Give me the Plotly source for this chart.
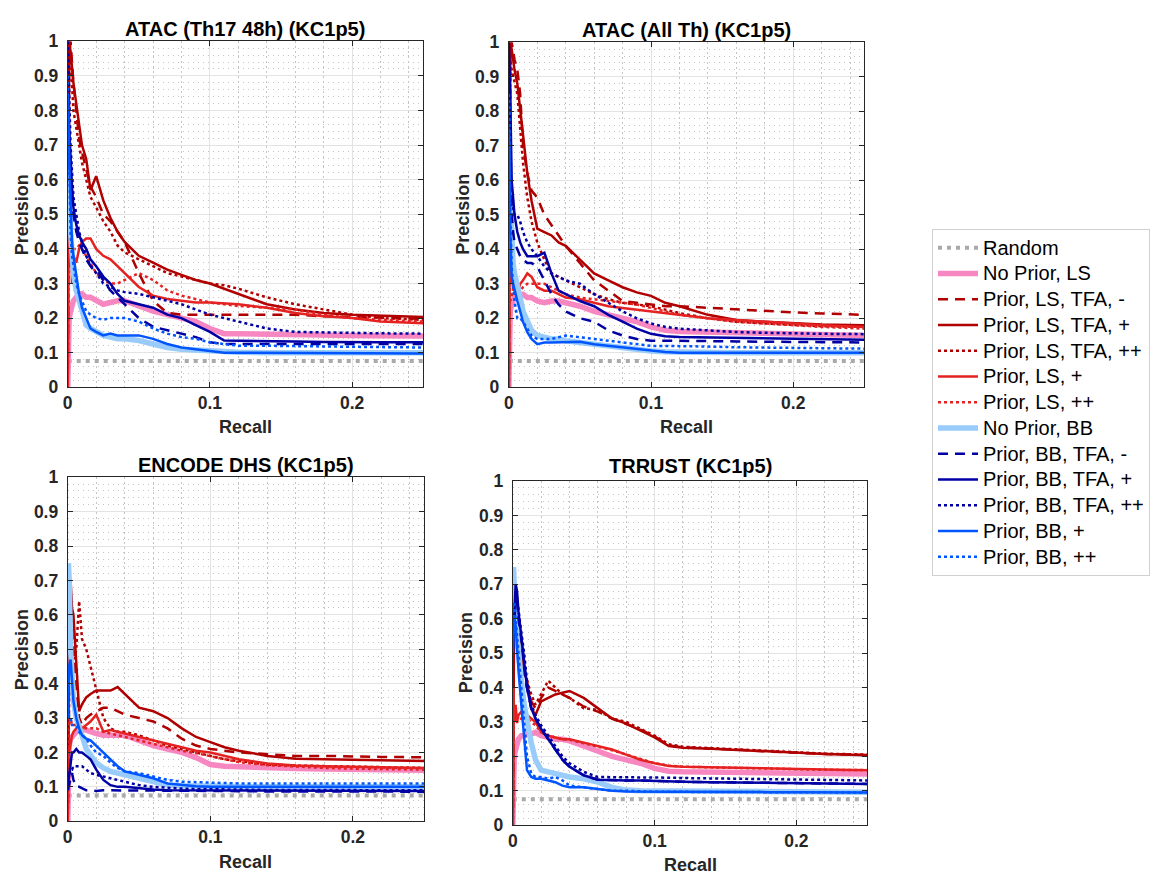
import plotly.graph_objects as go

# ---------------- data ----------------
recall = [0, 0.0005, 0.001, 0.002, 0.003, 0.004, 0.006, 0.008, 0.01, 0.013, 0.016,
          0.02, 0.025, 0.03, 0.035, 0.04, 0.05, 0.06, 0.07, 0.08, 0.09,
          0.1, 0.11, 0.12, 0.14, 0.16, 0.18, 0.2, 0.22, 0.25]

panel_titles = ["ATAC (Th17 48h) (KC1p5)", "ATAC (All Th) (KC1p5)",
                "ENCODE DHS (KC1p5)", "TRRUST (KC1p5)"]
random_precision = [0.076, 0.076, 0.075, 0.075]

series_names = ["No Prior, LS", "Prior, LS, TFA, -", "Prior, LS, TFA, +", "Prior, LS, TFA, ++",
                "Prior, LS, +", "Prior, LS, ++", "No Prior, BB", "Prior, BB, TFA, -",
                "Prior, BB, TFA, +", "Prior, BB, TFA, ++", "Prior, BB, +", "Prior, BB, ++"]

# Panel 1: ATAC (Th17 48h)
p1_ls_none = [0, 0.18, 0.2, 0.22, 0.24, 0.25, 0.26, 0.27, 0.27, 0.26, 0.26, 0.25, 0.24, 0.245, 0.25, 0.25, 0.235, 0.22, 0.21, 0.2, 0.19, 0.17, 0.155, 0.155, 0.153, 0.152, 0.151, 0.15, 0.149, 0.148]
p1_ls_tfa_m = [0, 0.7, 0.95, 1.0, 0.93, 0.88, 0.8, 0.72, 0.68, 0.63, 0.58, 0.55, 0.5, 0.48, 0.45, 0.42, 0.33, 0.25, 0.215, 0.21, 0.21, 0.21, 0.21, 0.21, 0.21, 0.21, 0.205, 0.203, 0.2, 0.198]
p1_ls_tfa_p = [0, 0.8, 1.0, 0.97, 0.92, 0.88, 0.82, 0.76, 0.7, 0.66, 0.57, 0.61, 0.54, 0.49, 0.45, 0.42, 0.38, 0.36, 0.34, 0.325, 0.31, 0.3, 0.285, 0.27, 0.24, 0.225, 0.215, 0.21, 0.207, 0.203]
p1_ls_tfa_pp = [0, 0.9, 1.0, 0.95, 0.88, 0.8, 0.75, 0.7, 0.65, 0.6, 0.55, 0.52, 0.48, 0.45, 0.41, 0.39, 0.37, 0.35, 0.33, 0.32, 0.31, 0.3, 0.295, 0.285, 0.26, 0.24, 0.225, 0.21, 0.2, 0.195]
p1_ls_p = [0, 0.67, 0.35, 0.5, 0.3, 0.38, 0.36, 0.4, 0.42, 0.43, 0.43, 0.4, 0.38, 0.37, 0.35, 0.33, 0.29, 0.265, 0.255, 0.25, 0.245, 0.245, 0.242, 0.24, 0.23, 0.215, 0.205, 0.2, 0.19, 0.185]
p1_ls_pp = [0, 0.4, 0.35, 0.38, 0.4, 0.4, 0.4, 0.41, 0.4, 0.38, 0.36, 0.33, 0.31, 0.3, 0.3, 0.31, 0.33, 0.31, 0.28, 0.265, 0.255, 0.245, 0.24, 0.235, 0.23, 0.225, 0.21, 0.2, 0.195, 0.19]
p1_bb_none = [0.75, 0.7, 0.6, 0.45, 0.38, 0.33, 0.28, 0.25, 0.22, 0.18, 0.17, 0.16, 0.15, 0.145, 0.14, 0.14, 0.135, 0.125, 0.115, 0.11, 0.107, 0.104, 0.102, 0.101, 0.1, 0.1, 0.1, 0.1, 0.1, 0.1]
p1_bb_tfa_m = [0.75, 0.85, 0.7, 0.6, 0.55, 0.5, 0.45, 0.42, 0.4, 0.37, 0.35, 0.34, 0.31, 0.28, 0.26, 0.24, 0.2, 0.175, 0.165, 0.155, 0.145, 0.13, 0.125, 0.125, 0.125, 0.125, 0.125, 0.125, 0.125, 0.125]
p1_bb_tfa_p = [0.7, 0.85, 0.75, 0.65, 0.58, 0.52, 0.47, 0.44, 0.42, 0.4, 0.37, 0.35, 0.32, 0.3, 0.27, 0.25, 0.24, 0.23, 0.21, 0.2, 0.18, 0.16, 0.135, 0.134, 0.133, 0.132, 0.131, 0.13, 0.13, 0.13]
p1_bb_tfa_pp = [1.0, 0.95, 0.85, 0.7, 0.6, 0.55, 0.5, 0.45, 0.42, 0.38, 0.35, 0.33, 0.3, 0.29, 0.28, 0.275, 0.27, 0.26, 0.25, 0.24, 0.225, 0.21, 0.2, 0.19, 0.17, 0.16, 0.158, 0.157, 0.156, 0.155]
p1_bb_p = [0.85, 0.8, 0.65, 0.5, 0.42, 0.38, 0.32, 0.27, 0.23, 0.2, 0.17, 0.16, 0.15, 0.155, 0.15, 0.15, 0.15, 0.14, 0.125, 0.115, 0.11, 0.105, 0.1, 0.1, 0.1, 0.1, 0.1, 0.099, 0.098, 0.098]
p1_bb_pp = [0.9, 0.8, 0.6, 0.45, 0.38, 0.35, 0.3, 0.27, 0.25, 0.22, 0.21, 0.2, 0.195, 0.2, 0.2, 0.2, 0.19, 0.17, 0.155, 0.145, 0.14, 0.13, 0.125, 0.12, 0.12, 0.12, 0.118, 0.117, 0.116, 0.115]

# Panel 2: ATAC (All Th)
p2_ls_none = [0, 0.2, 0.22, 0.24, 0.25, 0.26, 0.26, 0.27, 0.27, 0.26, 0.26, 0.25, 0.245, 0.25, 0.25, 0.245, 0.235, 0.22, 0.21, 0.2, 0.19, 0.175, 0.165, 0.162, 0.16, 0.158, 0.156, 0.154, 0.152, 0.15]
p2_ls_tfa_m = [0, 0.8, 0.95, 1.0, 0.97, 0.95, 0.92, 0.85, 0.7, 0.62, 0.57, 0.55, 0.5, 0.47, 0.44, 0.41, 0.36, 0.31, 0.28, 0.25, 0.245, 0.24, 0.235, 0.235, 0.23, 0.225, 0.22, 0.217, 0.214, 0.21]
p2_ls_tfa_p = [0, 0.9, 1.0, 0.98, 0.95, 0.92, 0.88, 0.8, 0.72, 0.62, 0.54, 0.46, 0.45, 0.44, 0.42, 0.41, 0.37, 0.33, 0.31, 0.29, 0.275, 0.265, 0.245, 0.235, 0.21, 0.195, 0.19, 0.185, 0.182, 0.18]
p2_ls_tfa_pp = [0, 0.85, 0.95, 0.92, 0.9, 0.88, 0.85, 0.75, 0.65, 0.55, 0.48, 0.42, 0.37, 0.33, 0.32, 0.31, 0.29, 0.27, 0.255, 0.245, 0.24, 0.235, 0.225, 0.215, 0.2, 0.19, 0.185, 0.18, 0.177, 0.175]
p2_ls_p = [0, 0.5, 0.3, 0.35, 0.28, 0.3, 0.27, 0.3, 0.31, 0.33, 0.32, 0.29, 0.28, 0.28, 0.27, 0.26, 0.255, 0.245, 0.235, 0.23, 0.225, 0.22, 0.215, 0.21, 0.2, 0.195, 0.19, 0.185, 0.18, 0.175]
p2_ls_pp = [0, 0.3, 0.25, 0.27, 0.28, 0.28, 0.27, 0.28, 0.29, 0.3, 0.3, 0.3, 0.3, 0.29, 0.28, 0.27, 0.26, 0.255, 0.25, 0.245, 0.24, 0.23, 0.22, 0.21, 0.2, 0.19, 0.185, 0.18, 0.175, 0.17]
p2_bb_none = [0.6, 0.65, 0.55, 0.42, 0.36, 0.33, 0.3, 0.26, 0.22, 0.19, 0.165, 0.15, 0.145, 0.14, 0.14, 0.135, 0.13, 0.125, 0.118, 0.112, 0.108, 0.105, 0.103, 0.102, 0.101, 0.1, 0.1, 0.1, 0.1, 0.1]
p2_bb_tfa_m = [0.8, 0.7, 0.6, 0.5, 0.45, 0.42, 0.4, 0.38, 0.37, 0.36, 0.36, 0.35, 0.31, 0.27, 0.24, 0.22, 0.2, 0.19, 0.165, 0.15, 0.14, 0.135, 0.135, 0.135, 0.134, 0.133, 0.132, 0.131, 0.13, 0.13]
p2_bb_tfa_p = [1.0, 0.95, 0.85, 0.6, 0.55, 0.5, 0.45, 0.42, 0.4, 0.38, 0.38, 0.38, 0.39, 0.33, 0.28, 0.27, 0.25, 0.235, 0.21, 0.19, 0.17, 0.155, 0.148, 0.146, 0.145, 0.144, 0.142, 0.14, 0.14, 0.138]
p2_bb_tfa_pp = [0.8, 0.75, 0.6, 0.55, 0.52, 0.5, 0.5, 0.48, 0.45, 0.42, 0.4, 0.38, 0.35, 0.33, 0.32, 0.31, 0.3, 0.27, 0.245, 0.22, 0.2, 0.185, 0.175, 0.17, 0.165, 0.16, 0.158, 0.156, 0.155, 0.154]
p2_bb_p = [0.75, 0.7, 0.45, 0.32, 0.3, 0.28, 0.25, 0.22, 0.19, 0.16, 0.14, 0.125, 0.13, 0.13, 0.13, 0.13, 0.132, 0.125, 0.12, 0.115, 0.11, 0.105, 0.102, 0.1, 0.1, 0.1, 0.1, 0.1, 0.1, 0.1]
p2_bb_pp = [0.85, 0.8, 0.5, 0.35, 0.3, 0.25, 0.2, 0.2, 0.19, 0.17, 0.15, 0.14, 0.14, 0.14, 0.145, 0.15, 0.145, 0.14, 0.135, 0.13, 0.125, 0.12, 0.12, 0.12, 0.118, 0.116, 0.115, 0.114, 0.113, 0.112]

# Panel 3: ENCODE DHS
p3_ls_none = [0, 0.2, 0.22, 0.24, 0.25, 0.25, 0.26, 0.265, 0.27, 0.265, 0.26, 0.255, 0.25, 0.25, 0.25, 0.25, 0.235, 0.22, 0.21, 0.2, 0.185, 0.165, 0.16, 0.158, 0.155, 0.153, 0.152, 0.151, 0.15, 0.148]
p3_ls_tfa_m = [0, 0.45, 0.5, 0.6, 0.55, 0.5, 0.4, 0.3, 0.28, 0.3, 0.31, 0.32, 0.33, 0.33, 0.32, 0.31, 0.3, 0.29, 0.27, 0.24, 0.22, 0.21, 0.205, 0.2, 0.195, 0.19, 0.19, 0.188, 0.187, 0.186]
p3_ls_tfa_p = [0, 0.5, 0.55, 0.7, 0.62, 0.6, 0.45, 0.32, 0.34, 0.36, 0.37, 0.38, 0.38, 0.38, 0.39, 0.37, 0.33, 0.32, 0.3, 0.27, 0.245, 0.23, 0.215, 0.205, 0.19, 0.182, 0.18, 0.178, 0.177, 0.175]
p3_ls_tfa_pp = [0, 0.3, 0.35, 0.4, 0.42, 0.45, 0.5, 0.64, 0.53, 0.5, 0.45, 0.38, 0.3, 0.27, 0.26, 0.26, 0.25, 0.235, 0.22, 0.21, 0.2, 0.19, 0.18, 0.175, 0.165, 0.162, 0.16, 0.158, 0.156, 0.155]
p3_ls_p = [0, 0.22, 0.2, 0.23, 0.25, 0.26, 0.27, 0.27, 0.27, 0.28, 0.29, 0.31, 0.26, 0.265, 0.26, 0.255, 0.245, 0.235, 0.225, 0.215, 0.205, 0.2, 0.19, 0.18, 0.168, 0.162, 0.16, 0.158, 0.157, 0.155]
p3_ls_pp = [0, 0.3, 0.28, 0.3, 0.28, 0.28, 0.28, 0.28, 0.27, 0.27, 0.27, 0.27, 0.26, 0.255, 0.25, 0.245, 0.235, 0.225, 0.215, 0.205, 0.198, 0.19, 0.18, 0.172, 0.163, 0.158, 0.155, 0.153, 0.152, 0.15]
p3_bb_none = [0.5, 0.75, 0.7, 0.5, 0.42, 0.35, 0.3, 0.27, 0.25, 0.21, 0.19, 0.17, 0.155, 0.145, 0.14, 0.135, 0.125, 0.115, 0.105, 0.103, 0.102, 0.101, 0.1, 0.1, 0.1, 0.1, 0.1, 0.1, 0.1, 0.1]
p3_bb_tfa_m = [0.09, 0.1, 0.11, 0.13, 0.14, 0.12, 0.1, 0.1, 0.095, 0.09, 0.09, 0.088, 0.09, 0.09, 0.09, 0.09, 0.09, 0.088, 0.088, 0.088, 0.088, 0.088, 0.088, 0.087, 0.087, 0.087, 0.087, 0.086, 0.086, 0.086]
p3_bb_tfa_p = [0.1, 0.12, 0.14, 0.18, 0.2, 0.2, 0.21, 0.2, 0.2, 0.19, 0.18, 0.15, 0.12, 0.105, 0.1, 0.1, 0.095, 0.092, 0.09, 0.09, 0.09, 0.09, 0.09, 0.09, 0.089, 0.089, 0.088, 0.088, 0.088, 0.088]
p3_bb_tfa_pp = [0.12, 0.13, 0.14, 0.15, 0.15, 0.16, 0.16, 0.16, 0.16, 0.15, 0.14, 0.135, 0.13, 0.125, 0.12, 0.115, 0.105, 0.1, 0.097, 0.095, 0.094, 0.093, 0.092, 0.092, 0.091, 0.091, 0.091, 0.09, 0.09, 0.09]
p3_bb_p = [0.3, 0.4, 0.45, 0.47, 0.4, 0.35, 0.3, 0.27, 0.25, 0.24, 0.235, 0.22, 0.2, 0.18, 0.16, 0.145, 0.135, 0.125, 0.11, 0.105, 0.102, 0.1, 0.1, 0.1, 0.1, 0.1, 0.1, 0.1, 0.1, 0.1]
p3_bb_pp = [0.3, 0.35, 0.3, 0.3, 0.28, 0.28, 0.28, 0.26, 0.25, 0.24, 0.22, 0.2, 0.19, 0.17, 0.155, 0.145, 0.14, 0.13, 0.12, 0.115, 0.113, 0.112, 0.111, 0.11, 0.11, 0.11, 0.11, 0.11, 0.11, 0.11]

# Panel 4: TRRUST
p4_ls_none = [0, 0.18, 0.2, 0.22, 0.24, 0.25, 0.26, 0.26, 0.265, 0.265, 0.27, 0.26, 0.255, 0.25, 0.25, 0.245, 0.23, 0.215, 0.2, 0.19, 0.18, 0.165, 0.157, 0.155, 0.154, 0.153, 0.152, 0.151, 0.15, 0.149]
p4_ls_tfa_m = [0, 0.55, 0.7, 0.65, 0.58, 0.52, 0.48, 0.44, 0.4, 0.36, 0.34, 0.37, 0.4, 0.39, 0.38, 0.37, 0.345, 0.33, 0.31, 0.295, 0.278, 0.258, 0.232, 0.226, 0.223, 0.219, 0.214, 0.21, 0.207, 0.204]
p4_ls_tfa_p = [0, 0.5, 0.65, 0.69, 0.6, 0.55, 0.5, 0.45, 0.42, 0.34, 0.32, 0.36, 0.37, 0.38, 0.385, 0.39, 0.37, 0.34, 0.31, 0.295, 0.275, 0.255, 0.23, 0.225, 0.222, 0.218, 0.214, 0.21, 0.207, 0.203]
p4_ls_tfa_pp = [0, 0.6, 0.75, 0.65, 0.6, 0.55, 0.5, 0.45, 0.42, 0.38, 0.35, 0.38, 0.42, 0.4, 0.38, 0.37, 0.34, 0.335, 0.31, 0.3, 0.28, 0.26, 0.235, 0.228, 0.224, 0.22, 0.215, 0.21, 0.208, 0.205]
p4_ls_p = [0, 0.4, 0.3, 0.35, 0.3, 0.32, 0.33, 0.33, 0.32, 0.31, 0.3, 0.27, 0.26, 0.255, 0.25, 0.25, 0.24, 0.23, 0.22, 0.205, 0.19, 0.18, 0.172, 0.17, 0.168, 0.166, 0.165, 0.163, 0.162, 0.16]
p4_ls_pp = [0, 0.35, 0.3, 0.32, 0.3, 0.3, 0.31, 0.32, 0.31, 0.3, 0.29, 0.27, 0.26, 0.255, 0.25, 0.248, 0.238, 0.228, 0.218, 0.205, 0.192, 0.18, 0.173, 0.17, 0.168, 0.166, 0.164, 0.162, 0.161, 0.16]
p4_bb_none = [0.6, 0.75, 0.7, 0.6, 0.55, 0.5, 0.42, 0.35, 0.3, 0.24, 0.19, 0.16, 0.155, 0.15, 0.145, 0.14, 0.135, 0.125, 0.11, 0.102, 0.1, 0.1, 0.1, 0.1, 0.1, 0.1, 0.1, 0.098, 0.097, 0.096]
p4_bb_tfa_m = [0.5, 0.55, 0.6, 0.65, 0.65, 0.6, 0.54, 0.47, 0.4, 0.34, 0.31, 0.28, 0.25, 0.22, 0.19, 0.17, 0.145, 0.132, 0.13, 0.13, 0.13, 0.128, 0.127, 0.126, 0.125, 0.124, 0.123, 0.122, 0.121, 0.12]
p4_bb_tfa_p = [0.5, 0.55, 0.6, 0.7, 0.68, 0.62, 0.55, 0.48, 0.4, 0.34, 0.31, 0.28, 0.25, 0.22, 0.19, 0.17, 0.145, 0.132, 0.13, 0.13, 0.13, 0.128, 0.127, 0.126, 0.125, 0.124, 0.123, 0.122, 0.121, 0.12]
p4_bb_tfa_pp = [0.5, 0.55, 0.6, 0.68, 0.66, 0.62, 0.56, 0.5, 0.42, 0.35, 0.32, 0.29, 0.26, 0.23, 0.2, 0.18, 0.155, 0.14, 0.14, 0.14, 0.14, 0.139, 0.138, 0.137, 0.136, 0.135, 0.134, 0.133, 0.132, 0.13]
p4_bb_p = [0.5, 0.55, 0.6, 0.58, 0.5, 0.45, 0.35, 0.25, 0.16, 0.14, 0.135, 0.135, 0.13, 0.125, 0.115, 0.11, 0.11, 0.105, 0.1, 0.098, 0.097, 0.097, 0.097, 0.097, 0.096, 0.096, 0.096, 0.096, 0.095, 0.095]
p4_bb_pp = [0.55, 0.6, 0.65, 0.6, 0.55, 0.48, 0.4, 0.3, 0.2, 0.15, 0.14, 0.14, 0.135, 0.14, 0.13, 0.115, 0.11, 0.105, 0.1, 0.1, 0.098, 0.097, 0.097, 0.097, 0.096, 0.096, 0.096, 0.096, 0.095, 0.095]

# ---------------- styles ----------------
DARK_RED, RED, PINK = "#B00000", "#E52222", "#F787C0"
LIGHT_BLUE, DARK_BLUE, BLUE = "#99CCFA", "#0000A5", "#0055FF"
series_colors = [PINK, DARK_RED, DARK_RED, DARK_RED, RED, RED,
                 LIGHT_BLUE, DARK_BLUE, DARK_BLUE, DARK_BLUE, BLUE, BLUE]
DASHED = "10px,7px"
series_dashes = ["solid", DASHED, "solid", "dot", "solid", "dot",
                 "solid", DASHED, "solid", "dot", "solid", "dot"]
series_widths = [5.5, 2.5, 2.5, 2.5, 2.5, 2.5, 5.5, 2.5, 2.5, 2.5, 2.5, 2.5]

panel_curves = [
    [p1_ls_none, p1_ls_tfa_m, p1_ls_tfa_p, p1_ls_tfa_pp, p1_ls_p, p1_ls_pp,
     p1_bb_none, p1_bb_tfa_m, p1_bb_tfa_p, p1_bb_tfa_pp, p1_bb_p, p1_bb_pp],
    [p2_ls_none, p2_ls_tfa_m, p2_ls_tfa_p, p2_ls_tfa_pp, p2_ls_p, p2_ls_pp,
     p2_bb_none, p2_bb_tfa_m, p2_bb_tfa_p, p2_bb_tfa_pp, p2_bb_p, p2_bb_pp],
    [p3_ls_none, p3_ls_tfa_m, p3_ls_tfa_p, p3_ls_tfa_pp, p3_ls_p, p3_ls_pp,
     p3_bb_none, p3_bb_tfa_m, p3_bb_tfa_p, p3_bb_tfa_pp, p3_bb_p, p3_bb_pp],
    [p4_ls_none, p4_ls_tfa_m, p4_ls_tfa_p, p4_ls_tfa_pp, p4_ls_p, p4_ls_pp,
     p4_bb_none, p4_bb_tfa_m, p4_bb_tfa_p, p4_bb_tfa_pp, p4_bb_p, p4_bb_pp],
]

W, H = 1162, 886
# plot boxes in pixels: (left, right, top, bottom)
boxes = [(63, 420, 32, 386), (506, 863, 33, 386), (63, 421, 478, 830), (510, 866, 482, 834)]
title_y = [19, 20, 465, 467]
xlabel_y = [427, 427, 872, 875]
ylabel_x = [17, 460, 17, 463]

FONT = "Liberation Sans, Arial, sans-serif"
AX_COLOR = "#262626"


def legend_label(text):
    return '<span style="font-size:20px">' + text + "</span>"


fig = go.Figure()
annotations = []
for i in range(4):
    xa = "x" if i == 0 else f"x{i + 1}"
    ya = "y" if i == 0 else f"y{i + 1}"
    fig.add_trace(go.Scatter(
        x=[recall[0], recall[-1]], y=[random_precision[i], random_precision[i]],
        mode="lines", name=legend_label("Random"), legendgroup="Random", showlegend=(i == 0),
        line=dict(color="#AAAAAA", width=4, dash="4px,5px"),
        xaxis=xa, yaxis=ya, hoverinfo="skip"))
    for name, ys, color, dash, width in zip(series_names, panel_curves[i], series_colors,
                                            series_dashes, series_widths):
        fig.add_trace(go.Scatter(
            x=recall, y=ys, mode="lines", name=legend_label(name), legendgroup=name,
            showlegend=(i == 0),
            line=dict(color=color, width=width, dash=dash),
            xaxis=xa, yaxis=ya))

    l, r, t, b = boxes[i]
    common = dict(showline=True, linecolor=AX_COLOR, linewidth=1, mirror="ticks",
                  ticks="inside", ticklen=5, tickcolor=AX_COLOR, tickwidth=1,
                  showgrid=True, gridcolor="#E3E3E3", gridwidth=1, zeroline=False,
                  tickfont=dict(family=FONT, size=17.5, color=AX_COLOR, weight="bold"))
    minor = dict(dtick=0.02, tick0=0, showgrid=True, gridcolor="#C4C4C4",
                 griddash="1.5px,3.5px", gridwidth=1, ticks="")
    xaxis = dict(common, domain=[l / W, r / W], range=[0, 0.25], tick0=0, dtick=0.1,
                 anchor=ya, minor=minor)
    yaxis = dict(common, domain=[1 - b / H, 1 - t / H], range=[0, 1], tick0=0, dtick=0.1,
                 anchor=xa, ticklabelstandoff=5, minor=minor)
    fig.layout["xaxis" if i == 0 else f"xaxis{i + 1}"] = xaxis
    fig.layout["yaxis" if i == 0 else f"yaxis{i + 1}"] = yaxis

    cx = (l + r) / 2
    annotations.append(dict(text=panel_titles[i], x=cx / W, y=1 - title_y[i] / H,
                            xref="paper", yref="paper", showarrow=False,
                            xanchor="center", yanchor="middle",
                            font=dict(family=FONT, size=20, color="#000000", weight="bold")))
    annotations.append(dict(text="Recall", x=cx / W, y=1 - xlabel_y[i] / H,
                            xref="paper", yref="paper", showarrow=False,
                            xanchor="center", yanchor="middle",
                            font=dict(family=FONT, size=18, color=AX_COLOR, weight="bold")))
    annotations.append(dict(text="Precision", x=ylabel_x[i] / W, y=1 - ((t + b) / 2) / H,
                            xref="paper", yref="paper", showarrow=False, textangle=-90,
                            xanchor="center", yanchor="middle",
                            font=dict(family=FONT, size=18, color=AX_COLOR, weight="bold")))

fig.update_layout(
    width=W, height=H,
    margin=dict(l=0, r=0, t=0, b=0),
    paper_bgcolor="white", plot_bgcolor="white",
    annotations=annotations,
    showlegend=True,
    legend=dict(x=931 / W, y=1 - 224 / H, xanchor="left", yanchor="top",
                bgcolor="white", bordercolor="#D0D0D0", borderwidth=1,
                font=dict(family=FONT, size=17.5, color="#000000"),
                tracegroupgap=0, itemwidth=40),
)

fig.write_html("out.html")
